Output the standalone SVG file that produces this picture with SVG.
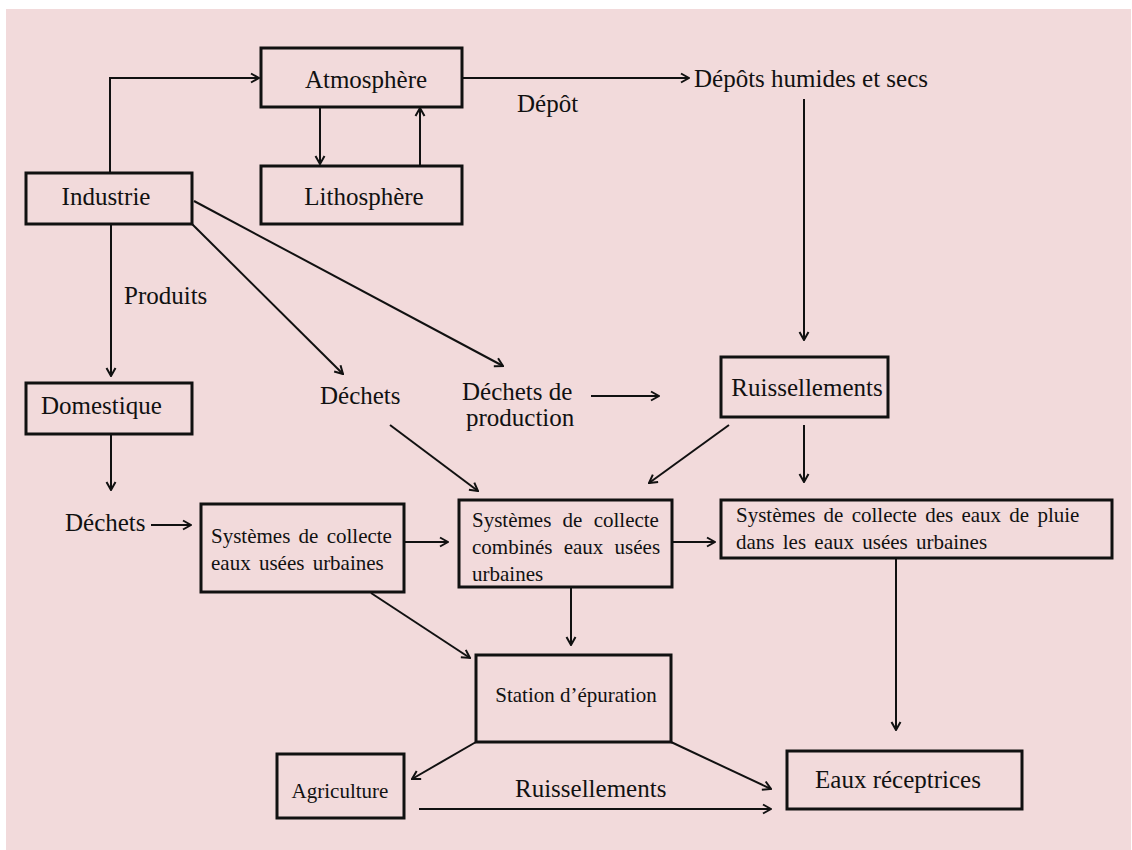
<svg xmlns="http://www.w3.org/2000/svg" width="1132" height="850" viewBox="0 0 1132 850">
<defs>
<style>
.box{fill:none;stroke:#111;stroke-width:3}
.ln{fill:none;stroke:#111;stroke-width:2}
.arr{fill:none;stroke:#111;stroke-width:2;marker-end:url(#ah)}
text{font-family:"Liberation Serif","Times New Roman",serif;fill:#111}
.t{font-size:25px}
.s{font-size:21px}
</style>
<marker id="ah" viewBox="0 0 12 12" refX="11" refY="6" markerWidth="12" markerHeight="12" markerUnits="userSpaceOnUse" orient="auto">
<polyline points="3,1.5 11,6 3,10.5" fill="none" stroke="#111" stroke-width="2"/>
</marker>
</defs>
<rect x="0" y="0" width="1132" height="850" fill="#ffffff"/>
<rect x="6" y="9" width="1125" height="841" fill="#f2dadb"/>

<g id="connectors">
<polyline class="arr" points="110,173 110,78 259,78"/>
<line class="arr" x1="320" y1="107" x2="320" y2="164"/>
<line class="arr" x1="420" y1="165" x2="420" y2="108"/>
<line class="arr" x1="462" y1="78" x2="689" y2="78"/>
<line class="arr" x1="804" y1="99" x2="804" y2="340"/>
<line class="arr" x1="111" y1="224" x2="111" y2="376"/>
<line class="arr" x1="192" y1="224" x2="343" y2="374"/>
<line class="arr" x1="194" y1="201" x2="503" y2="366"/>
<line class="arr" x1="591" y1="396" x2="659" y2="396"/>
<line class="arr" x1="729" y1="425" x2="649" y2="483"/>
<line class="arr" x1="804" y1="425" x2="804" y2="482"/>
<line class="arr" x1="390" y1="425" x2="478" y2="491"/>
<line class="arr" x1="111" y1="434" x2="111" y2="490"/>
<line class="arr" x1="151" y1="525" x2="191" y2="525"/>
<line class="arr" x1="404" y1="542" x2="448" y2="542"/>
<line class="arr" x1="672" y1="542" x2="715" y2="542"/>
<line class="arr" x1="571" y1="587" x2="571" y2="645"/>
<line class="arr" x1="371" y1="593" x2="470" y2="658"/>
<line class="arr" x1="896" y1="558" x2="896" y2="730"/>
<line class="arr" x1="476" y1="742" x2="412" y2="779"/>
<line class="arr" x1="671" y1="742" x2="771" y2="789"/>
<line class="arr" x1="419" y1="809" x2="771" y2="809"/>
</g>

<g id="atmosphere">
<rect class="box" x="261" y="48" width="201" height="59"/>
<text class="t" x="366" y="88" text-anchor="middle">Atmosphère</text>
</g>
<g id="lithosphere">
<rect class="box" x="261" y="166" width="201" height="58"/>
<text class="t" x="364" y="205" text-anchor="middle">Lithosphère</text>
</g>
<g id="industrie">
<rect class="box" x="26" y="173" width="166" height="51"/>
<text class="t" x="106" y="205" text-anchor="middle">Industrie</text>
</g>
<g id="depot-label">
<text class="t" x="517" y="112">Dépôt</text>
</g>
<g id="depots-humides">
<text class="t" x="694" y="87">Dépôts humides et secs</text>
</g>
<g id="produits-label">
<text class="t" x="124" y="304">Produits</text>
</g>
<g id="domestique">
<rect class="box" x="26" y="383" width="166" height="51"/>
<text class="t" x="41" y="414">Domestique</text>
</g>
<g id="dechets-mid">
<text class="t" x="320" y="404">Déchets</text>
</g>
<g id="dechets-production">
<text class="t" x="462" y="400">Déchets de</text>
<text class="t" x="466" y="426">production</text>
</g>
<g id="ruissellements">
<rect class="box" x="721" y="357" width="167" height="60"/>
<text class="t" x="807" y="396" text-anchor="middle">Ruissellements</text>
</g>
<g id="dechets-left">
<text class="t" x="65" y="531">Déchets</text>
</g>
<g id="collecte-urbaines">
<rect class="box" x="201" y="504" width="203" height="88"/>
<text class="s" x="211" y="543" word-spacing="3">Systèmes de collecte</text>
<text class="s" x="211" y="570" word-spacing="3">eaux usées urbaines</text>
</g>
<g id="collecte-combines">
<rect class="box" x="459" y="500" width="213" height="87"/>
<text class="s" x="472" y="527" word-spacing="6">Systèmes de collecte</text>
<text class="s" x="472" y="554" word-spacing="6">combinés eaux usées</text>
<text class="s" x="472" y="581">urbaines</text>
</g>
<g id="collecte-pluie">
<rect class="box" x="721" y="500" width="391" height="58"/>
<text class="s" x="736" y="522" word-spacing="3">Systèmes de collecte des eaux de pluie</text>
<text class="s" x="736" y="549" word-spacing="3">dans les eaux usées urbaines</text>
</g>
<g id="station">
<rect class="box" x="476" y="655" width="195" height="87"/>
<text class="s" x="576" y="702" text-anchor="middle">Station d’épuration</text>
</g>
<g id="agriculture">
<rect class="box" x="277" y="754" width="127" height="64"/>
<text class="s" x="340" y="798" text-anchor="middle" font-size="20">Agriculture</text>
</g>
<g id="ruissellements-label">
<text class="t" x="515" y="797">Ruissellements</text>
</g>
<g id="eaux-receptrices">
<rect class="box" x="787" y="751" width="235" height="58"/>
<text class="t" x="898" y="788" text-anchor="middle">Eaux réceptrices</text>
</g>
</svg>
